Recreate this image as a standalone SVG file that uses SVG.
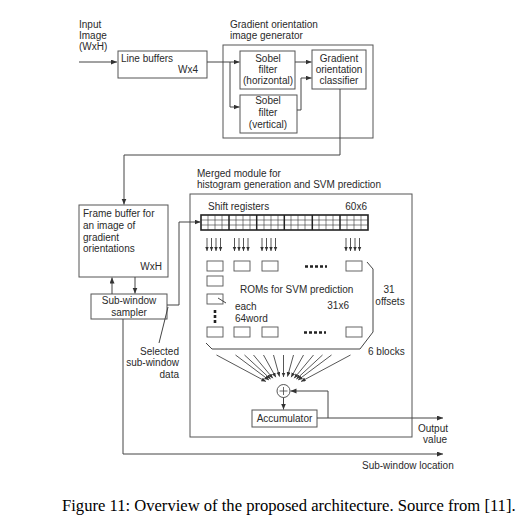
<svg xmlns="http://www.w3.org/2000/svg" width="526" height="521" viewBox="0 0 526 521">
<defs>
<marker id="ah" markerUnits="userSpaceOnUse" markerWidth="7" markerHeight="6" refX="6" refY="2.5" orient="auto"><path d="M0,0 L6,2.5 L0,5 z" fill="#333"/></marker>
<marker id="ahs" markerUnits="userSpaceOnUse" markerWidth="6" markerHeight="5" refX="4.5" refY="2" orient="auto"><path d="M0,0 L4.5,2 L0,4 z" fill="#333"/></marker>
<style>
text{font-family:"Liberation Sans",Arial,sans-serif;font-size:10px;fill:#2a2a2a}
.c{text-anchor:middle}
.r{text-anchor:end}
.box{fill:#fff;stroke:#555;stroke-width:1}
.ln{fill:none;stroke:#444;stroke-width:1}
.arr{fill:none;stroke:#444;stroke-width:1;marker-end:url(#ah)}
.sarr{fill:none;stroke:#444;stroke-width:0.9;marker-end:url(#ahs)}
.rom{fill:#fff;stroke:#555;stroke-width:0.9}
.dots{fill:none;stroke:#222;stroke-width:2.6;stroke-dasharray:3 2}
.grid{fill:none;stroke:#333;stroke-width:0.6}
.cap{font-family:"Liberation Serif","Times New Roman",serif;font-size:16.6px;fill:#000}
</style>
</defs>

<g id="input-label">
<text x="79" y="28">Input</text>
<text x="79" y="39">Image</text>
<text x="79" y="50">(WxH)</text>
</g>

<g id="line-buffers">
<rect class="box" x="118" y="51" width="89" height="27"/>
<text x="121" y="62">Line buffers</text>
<text class="r" x="198" y="73">Wx4</text>
</g>

<g id="gradient-generator">
<text x="230" y="28">Gradient orientation</text>
<text x="230" y="39">image generator</text>
<rect class="box" x="223" y="45" width="150" height="93"/>
</g>

<g id="sobel-h">
<rect class="box" x="240" y="51" width="55" height="38"/>
<text class="c" x="268" y="62">Sobel</text>
<text class="c" x="268" y="73">filter</text>
<text class="c" x="268" y="84">(horizontal)</text>
</g>

<g id="sobel-v">
<rect class="box" x="240" y="95" width="57" height="38"/>
<text class="c" x="268" y="104">Sobel</text>
<text class="c" x="268" y="116">filter</text>
<text class="c" x="268" y="128">(vertical)</text>
</g>

<g id="classifier">
<rect class="box" x="312" y="50" width="54" height="39"/>
<text class="c" x="339" y="62">Gradient</text>
<text class="c" x="339" y="73">orientation</text>
<text class="c" x="339" y="84">classifier</text>
</g>

<g id="frame-buffer">
<rect class="box" x="79" y="205" width="89" height="72"/>
<text x="83" y="217">Frame buffer for</text>
<text x="83" y="229">an image of</text>
<text x="83" y="241">gradient</text>
<text x="83" y="252">orientations</text>
<text class="r" x="162" y="270">WxH</text>
</g>

<g id="sampler">
<rect class="box" x="91" y="294" width="76" height="25"/>
<text class="c" x="129" y="304">Sub-window</text>
<text class="c" x="129" y="316">sampler</text>
</g>

<g id="selected-label">
<text class="r" x="179" y="355">Selected</text>
<text class="r" x="179" y="366">sub-window</text>
<text class="r" x="179" y="378">data</text>
</g>

<g id="merged-module">
<text x="197" y="177">Merged module for</text>
<text x="197" y="188">histogram generation and SVM prediction</text>
<rect class="box" x="190" y="194" width="222" height="243"/>
</g>

<g id="shift-registers">
<text x="208" y="210">Shift registers</text>
<text class="r" x="367" y="210">60x6</text>
<rect x="201" y="215" width="167" height="15" fill="#fff" stroke="#222" stroke-width="1.6"/>
<path class="grid" d="M201,220H368M201,225H368"/>
<path class="grid" d="M208,215V230M215,215V230M222,215V230M236,215V230M243,215V230M250,215V230M264,215V230M271,215V230M278,215V230M291,215V230M298,215V230M305,215V230M319,215V230M326,215V230M333,215V230M347,215V230M354,215V230M361,215V230"/>
<path d="M229,215V230M256.7,215V230M284.3,215V230M312.3,215V230M340,215V230" stroke="#222" stroke-width="1.5"/>
</g>

<g id="roms">
<rect class="rom" x="207" y="261" width="16" height="10"/>
<rect class="rom" x="234" y="261" width="16" height="10"/>
<rect class="rom" x="262" y="261" width="16" height="10"/>
<rect class="rom" x="346" y="261" width="16" height="10"/>
<line class="dots" x1="305" y1="266.5" x2="327" y2="266.5"/>
<rect class="rom" x="207" y="276" width="16" height="10"/>
<rect class="rom" x="207" y="294" width="16" height="10"/>
<line class="dots" x1="215" y1="310" x2="215" y2="324"/>
<rect class="rom" x="207" y="327" width="16" height="10"/>
<rect class="rom" x="234" y="327" width="16" height="10"/>
<rect class="rom" x="262" y="327" width="16" height="10"/>
<rect class="rom" x="346" y="327" width="16" height="10"/>
<line class="dots" x1="304" y1="332.5" x2="326" y2="332.5"/>
<line class="ln" x1="218" y1="298" x2="226" y2="303" stroke-width="0.8"/>
<text x="240" y="293">ROMs for SVM prediction</text>
<text class="r" x="349" y="309">31x6</text>
<text x="235" y="310">each</text>
<text x="235" y="322">64word</text>
<path class="ln" d="M367,262 L373,269 L373,332 L360,349 L212,349 L206,343" stroke-width="0.9"/>
<text class="c" x="389" y="293">31</text>
<text class="c" x="390" y="305">offsets</text>
<text x="368" y="355">6 blocks</text>
</g>

<g id="adder">
<circle cx="283.5" cy="391" r="6.5" fill="#fff" stroke="#444" stroke-width="0.9"/>
<path d="M279.5,391H287.5M283.5,387V395" stroke="#444" stroke-width="0.8"/>
</g>

<g id="accumulator">
<rect class="box" x="252" y="410" width="65" height="17"/>
<text class="c" x="284.5" y="422">Accumulator</text>
</g>

<g id="output-labels">
<text x="418" y="432">Output</text>
<text class="r" x="447" y="443">value</text>
<text x="362" y="469">Sub-window location</text>
</g>

<g id="connectors">
<path class="arr" d="M79,62H117"/>
<path class="arr" d="M207,62H239.5"/>
<path class="arr" d="M230,62V107H239.5"/>
<path class="arr" d="M295,62H311.5"/>
<path class="arr" d="M297,110H301V78H311.5"/>
<path class="arr" d="M340,89V155H124V204.5"/>
<path class="arr" d="M112,294V277.5"/>
<path class="arr" d="M135,277V293.5"/>
<path class="arr" d="M167,305H179V222H200.5"/>
<path class="arr" d="M123,319V454H443"/>
<path class="ln" d="M168,307L159,343"/>
<g>
<path class="sarr" d="M207,238V251"/><path class="sarr" d="M211.5,238V251"/><path class="sarr" d="M216,238V251"/><path class="sarr" d="M220.5,238V251"/>
<path class="sarr" d="M234.5,238V251"/><path class="sarr" d="M239,238V251"/><path class="sarr" d="M243.5,238V251"/><path class="sarr" d="M248,238V251"/>
<path class="sarr" d="M262,238V251"/><path class="sarr" d="M266.5,238V251"/><path class="sarr" d="M271,238V251"/><path class="sarr" d="M275.5,238V251"/>
<path class="sarr" d="M346,238V251"/><path class="sarr" d="M350.5,238V251"/><path class="sarr" d="M355,238V251"/><path class="sarr" d="M359.5,238V251"/>
</g>
<g>
<path class="sarr" d="M283.5,355L283.5,377"/>
<path class="sarr" d="M293.5,355L287.5,376.6"/>
<path class="sarr" d="M303.5,355L291.2,377.2"/>
<path class="sarr" d="M313.5,355L294.2,378.2"/>
<path class="sarr" d="M322.5,355L296.4,379.1"/>
<path class="sarr" d="M331.5,355L298.1,380"/>
<path class="sarr" d="M350.5,355L301.1,381.5"/>
<path class="sarr" d="M273.5,355L279.5,376.6"/>
<path class="sarr" d="M263.5,355L275.8,377.2"/>
<path class="sarr" d="M253.5,355L272.8,378.2"/>
<path class="sarr" d="M244.5,355L270.6,379.1"/>
<path class="sarr" d="M235.5,355L268.9,380"/>
<path class="sarr" d="M216.5,355L265.9,381.5"/>
</g>
<path class="arr" d="M283.5,397.5V409.5"/>
<path class="arr" d="M317,418H443"/>
<path class="arr" d="M328,418V391H290.5"/>
</g>

<text class="cap" x="62" y="511">Figure 11: Overview of the proposed architecture. Source from [11].</text>
</svg>
